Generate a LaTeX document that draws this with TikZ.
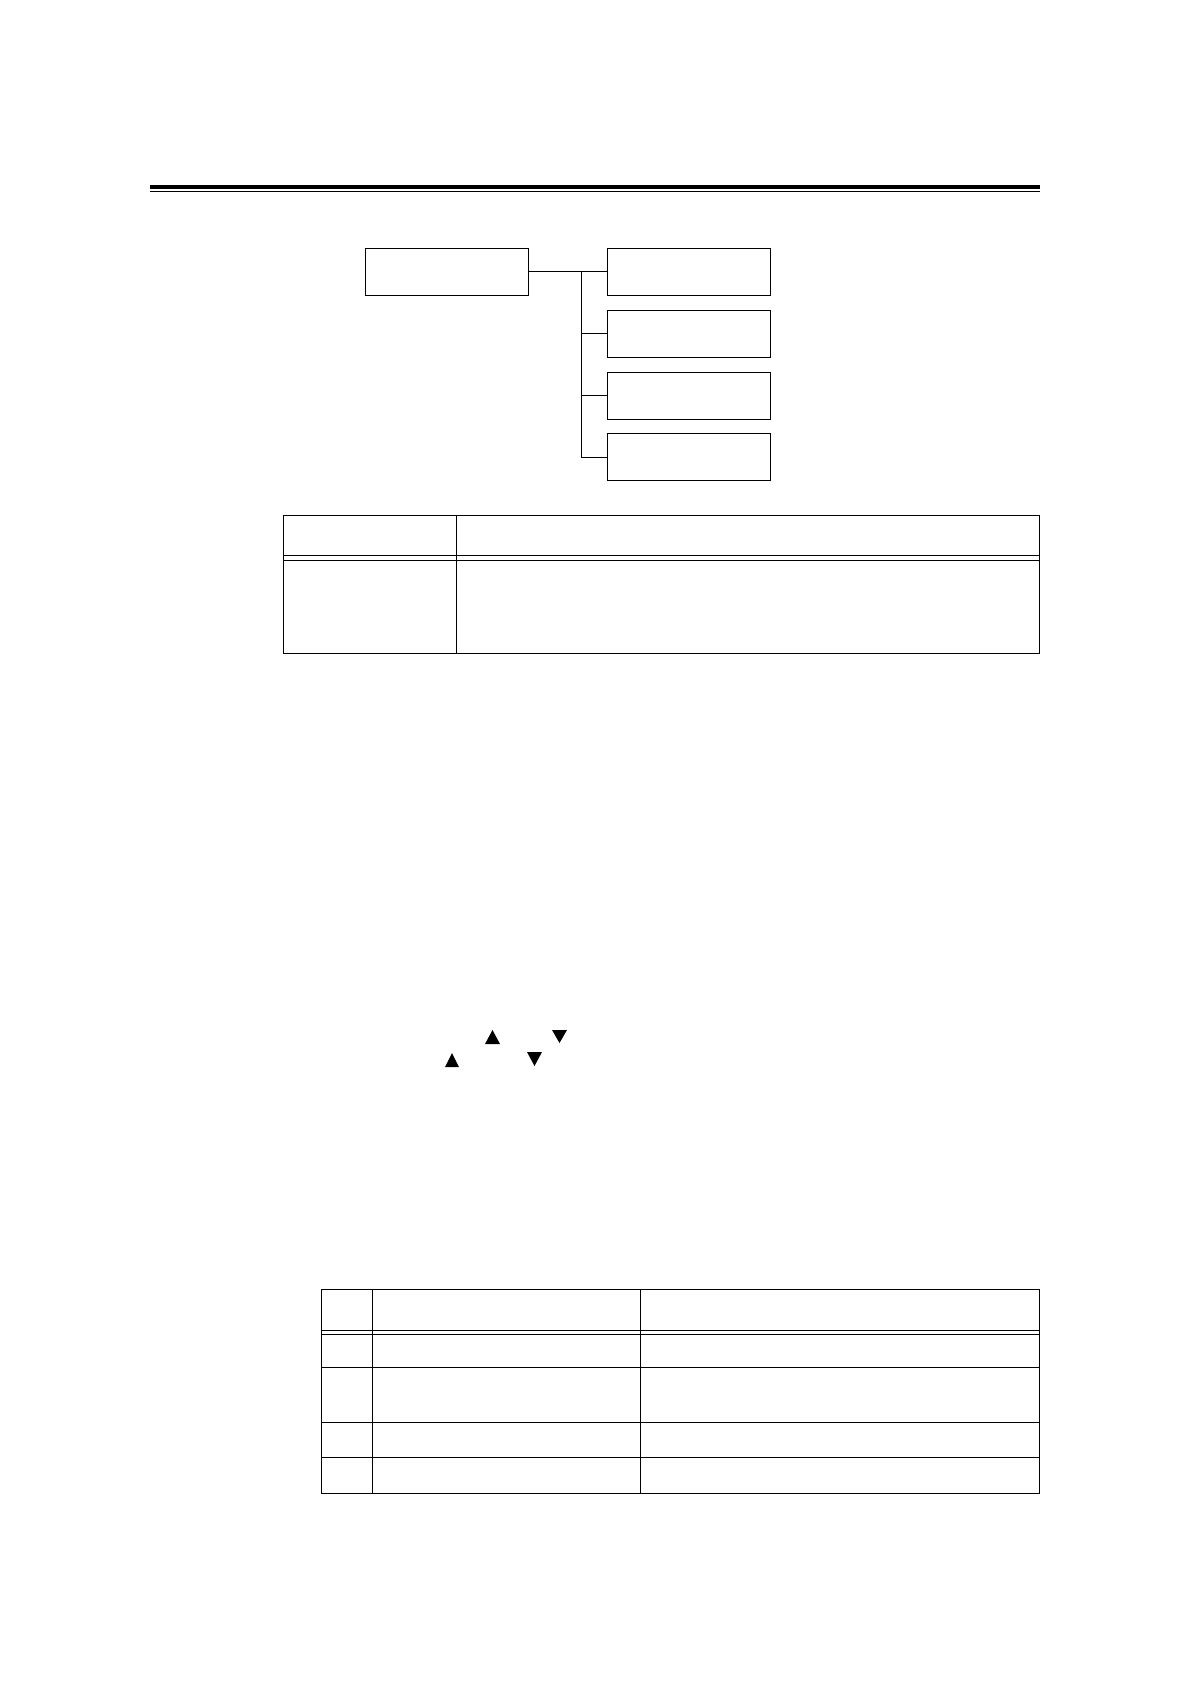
\documentclass[tikz,border=0pt]{standalone}
\begin{document}
\begin{tikzpicture}[x=1pt,y=-1pt,
  boxnode/.style={draw, line width=1pt, minimum width=163pt, minimum height=47pt, inner sep=0pt, outer sep=0pt},
  conn/.style={line width=1pt},
  tbl/.style={line width=1.2pt},
  tri/.style={fill=black}]
\fill[white] (0,0) rectangle (1190,1684);
\useasboundingbox (0,0) rectangle (1190,1684);
% header rules
\fill[black] (150,185) rectangle (1040,189);
\draw[line width=1pt] (150,191.7) -- (1040,191.7);
% tree
\node[boxnode] (root) at (446.5,271.5) {};
\node[boxnode] (c1) at (688.5,271.5) {};
\node[boxnode] (c2) at (688.5,333.8) {};
\node[boxnode] (c3) at (688.5,395.8) {};
\node[boxnode] (c4) at (688.5,457.3) {};
\coordinate (bus) at (581.3,271.5);
\draw[conn] (root.east) -- (c1.west);
\draw[conn] (bus) |- (c4.west);
\draw[conn] (bus |- c2.west) -- (c2.west);
\draw[conn] (bus |- c3.west) -- (c3.west);
% table 1
\draw[tbl] (283.3,515.3) rectangle (1039.3,653.3);
\draw[tbl] (456.3,515.3) -- (456.3,653.3);
\draw[tbl] (283.3,555.3) -- (1039.3,555.3);
\draw[tbl] (283.3,560.3) -- (1039.3,560.3);
% triangles
\fill[tri] (485,1044) -- (500,1044) -- (492.5,1030) -- cycle;
\fill[tri] (552,1030) -- (567,1030) -- (559.5,1043) -- cycle;
\fill[tri] (445,1067) -- (459,1067) -- (452,1053) -- cycle;
\fill[tri] (527,1052) -- (542,1052) -- (534.5,1066) -- cycle;
% table 2
\draw[tbl] (321.3,1289.3) rectangle (1039.3,1493.3);
\draw[tbl] (372.3,1289.3) -- (372.3,1493.3);
\draw[tbl] (640.3,1289.3) -- (640.3,1493.3);
\draw[tbl] (321.3,1330.3) -- (1039.3,1330.3);
\draw[tbl] (321.3,1334.3) -- (1039.3,1334.3);
\draw[tbl] (321.3,1367.3) -- (1039.3,1367.3);
\draw[tbl] (321.3,1422.3) -- (1039.3,1422.3);
\draw[tbl] (321.3,1457.3) -- (1039.3,1457.3);
\end{tikzpicture}
\end{document}
